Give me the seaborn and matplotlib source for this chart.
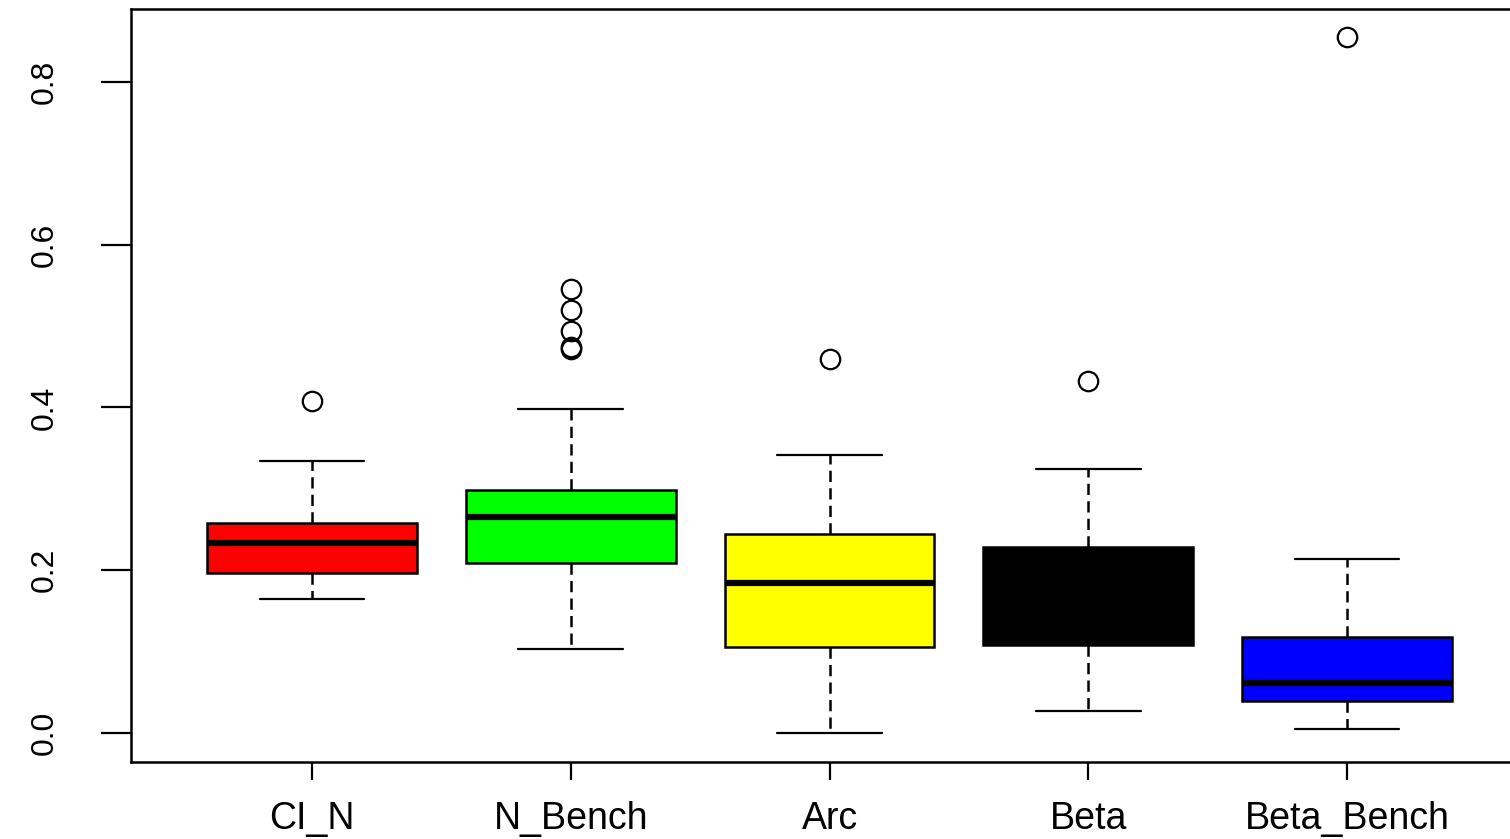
import pandas as pd
import seaborn as sns
import matplotlib.pyplot as plt

# values (quartiles, whisker ends, outliers)
methods = ["CI_N", "N_Bench", "Arc", "Beta", "Beta_Bench"]
colors = ["#FF0000", "#00FF00", "#FFFF00", "#000000", "#0000FF"]

ci_n = [0.165, 0.180, 0.197, 0.215, 0.233, 0.245, 0.258, 0.334, 0.408]
n_bench = [0.103, 0.130, 0.150, 0.170, 0.185, 0.198, 0.209, 0.220, 0.230,
           0.240, 0.250, 0.258, 0.265, 0.272, 0.278, 0.284, 0.290, 0.295,
           0.299, 0.398, 0.472, 0.474, 0.494, 0.520, 0.545]
arc = [0.000, 0.060, 0.106, 0.150, 0.184, 0.210, 0.244, 0.342, 0.459]
beta = [0.027, 0.070, 0.108, 0.140, 0.170, 0.200, 0.229, 0.324, 0.432]
beta_bench = [0.005, 0.020, 0.039, 0.050, 0.061, 0.090, 0.118, 0.214, 0.855]

groups = [ci_n, n_bench, arc, beta, beta_bench]
df = pd.DataFrame({
    "method": [m for m, g in zip(methods, groups) for _ in g],
    "value": [v for g in groups for v in g],
})

sns.set_style("ticks")
plt.rcParams["font.family"] = ["Liberation Sans", "DejaVu Sans"]

fig = plt.figure(figsize=(15.1, 8.39), dpi=100)
ax = fig.add_axes([131 / 1510, 1 - 762 / 839, (1515 - 131) / 1510, (762 - 9) / 839])

sns.boxplot(data=df, x="method", y="value", hue="method", order=methods,
            hue_order=methods, palette=colors, legend=False, saturation=1,
            width=0.81, linecolor="black", linewidth=1.8, whis=1.5, ax=ax,
            medianprops=dict(color="black", linewidth=4.5),
            whiskerprops=dict(linestyle=(0, (4.5, 2.5)), linewidth=1.8),
            capprops=dict(linewidth=1.6),
            flierprops=dict(marker="o", markerfacecolor="none",
                            markeredgecolor="black", markeredgewidth=1.6,
                            markersize=14))

ax.set_xlim(-0.6995, 4.649)
ax.set_ylim(-0.0356, 0.8894)
ax.set_yticks([0.0, 0.2, 0.4, 0.6, 0.8])
ax.set_yticklabels(["0.0", "0.2", "0.4", "0.6", "0.8"], rotation=90, va="center")
ax.set_xlabel("")
ax.set_ylabel("")

for s in ["left", "bottom", "top", "right"]:
    ax.spines[s].set_linewidth(1.8)
    ax.spines[s].set_color("black")

ax.tick_params(axis="y", length=21.6, width=1.6, pad=30, labelsize=23, colors="black")
ax.tick_params(axis="x", length=13, width=1.6, pad=15, labelsize=27, colors="black")

plt.savefig("out.png", dpi=100)
